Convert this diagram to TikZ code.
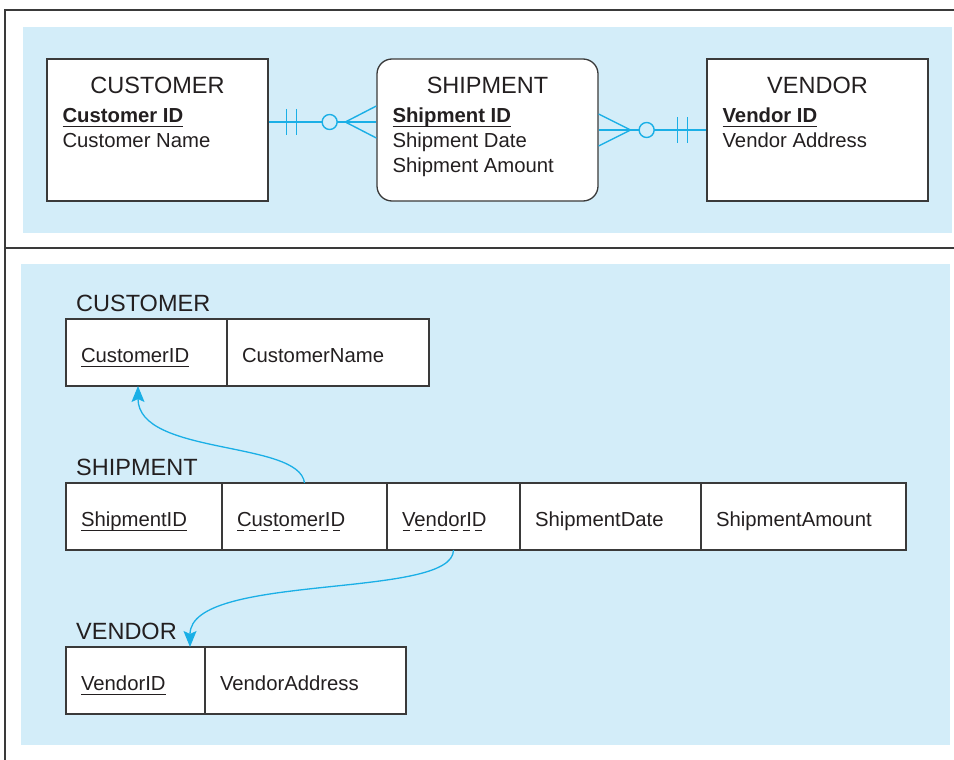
\documentclass[tikz,border=0pt]{standalone}
\usepackage{fontspec}
\setmainfont{Liberation Sans}
\usetikzlibrary{arrows.meta,calc,positioning}

\definecolor{panelblue}{HTML}{D3EDF9}
\definecolor{linkcyan}{HTML}{1AAFE6}
\definecolor{inkgray}{HTML}{231F20}
\definecolor{boxgray}{HTML}{3A3A3A}

\newcommand{\bodyfont}{\fontsize{20.3}{25}\selectfont}
\newcommand{\headfont}{\fontsize{23.5}{28}\selectfont}
\newsavebox{\keybox}
\newcommand{\keyul}[1]{\sbox{\keybox}{#1}\rlap{\usebox{\keybox}}\rule[-5pt]{\wd\keybox}{1.3pt}}
\newcommand{\keydash}[1]{\sbox{\keybox}{#1}\rlap{\usebox{\keybox}}\hbox to \wd\keybox{\xleaders\hbox{\rule[-5pt]{7pt}{1.3pt}\kern4.5pt}\hfil}}

\begin{document}
\begin{tikzpicture}[x=1pt,y=-1pt,font=\bodyfont,text=inkgray,
entity/.style={draw=boxgray,line width=1.3pt,fill=white,minimum width=221pt,minimum height=142pt,inner sep=0pt},
etitle/.style={font=\headfont,anchor=base,inner sep=0pt},
attr/.style={anchor=base west,inner sep=0pt},
link/.style={draw=linkcyan,line width=1.4pt},
optring/.style={circle,draw=linkcyan,line width=1.4pt,fill=panelblue,minimum size=15pt,inner sep=0pt},
tname/.style={font=\headfont,anchor=base west,inner sep=0pt},
cell/.style={draw=boxgray,line width=1.3pt,fill=white,outer sep=0pt,minimum height=67pt,inner xsep=15pt,inner ysep=0pt,
  text height=19pt,text depth=0pt,align=left},
fkey/.style={draw=linkcyan,line width=1.3pt,-{Stealth[length=16pt,width=13pt,inset=3pt]}},
frame/.style={draw=boxgray,line width=2.4pt},
]
\useasboundingbox (0,0) rectangle (954,760);

\fill[panelblue] (23,27) rectangle (952,233);
\fill[panelblue] (21,264) rectangle (950,745);
\draw[frame] (954,10) -- (5,10) -- (5,760);
\draw[frame,line width=1.5pt] (5,248) -- (954,248);

\node[entity] (custE) at (157.5,130) {};
\node[entity,rounded corners=15pt] (shipE) at (487.5,130) {};
\node[entity] (vendE) at (817.5,130) {};

\node[etitle] (custT) at ($(custE.north)+(0,35)$) {CUSTOMER};
\node[attr] (custK) at ($(custE.north west)+(16,64)$) {\bfseries\keyul{Customer ID}};
\node[attr] (custA) at ($(custK.base west)+(0,25)$) {Customer Name};

\node[etitle] (shipT) at ($(shipE.north)+(0,35)$) {SHIPMENT};
\node[attr] (shipK) at ($(shipE.north west)+(16,64)$) {\bfseries\keyul{Shipment ID}};
\node[attr] (shipA) at ($(shipK.base west)+(0,25)$) {Shipment Date};
\node[attr] (shipB) at ($(shipA.base west)+(0,25)$) {Shipment Amount};

\node[etitle] (vendT) at ($(vendE.north)+(0,35)$) {VENDOR};
\node[attr] (vendK) at ($(vendE.north west)+(16,64)$) {\bfseries\keyul{Vendor ID}};
\node[attr] (vendA) at ($(vendK.base west)+(0,25)$) {Vendor Address};

\coordinate (lCrow) at ($(shipE.west)+(-31,-8)$);
\draw[link] ($(custE.east)+(0,-8)$) -- ($(shipE.west)+(0,-8)$);
\draw[link] ($(custE.east)+(18,-21)$) -- +(0,26);
\draw[link] ($(custE.east)+(28,-21)$) -- +(0,26);
\node[optring] (lRing) at ($(custE.east)+(61,-8)$) {};
\draw[link] ($(shipE.west)+(0,-24)$) -- (lCrow) -- ($(shipE.west)+(0,8)$);

\coordinate (rCrow) at ($(shipE.east)+(32,0)$);
\draw[link] (shipE.east) -- (vendE.west);
\draw[link] ($(shipE.east)+(0,-16)$) -- (rCrow) -- ($(shipE.east)+(0,16)$);
\node[optring] (rRing) at ($(shipE.east)+(48,0)$) {};
\draw[link] ($(vendE.west)+(-29,-13)$) -- +(0,26);
\draw[link] ($(vendE.west)+(-19,-13)$) -- +(0,26);

\node[tname] (custN) at (76,311) {CUSTOMER};
\node[cell,anchor=north west,text width=131pt] (cCust) at ($(custN.base west)+(-10,8)$) {\keyul{CustomerID}};
\node[cell,right=0pt of cCust,text width=172pt] (cName) {CustomerName};

\node[tname] (shipN) at (76,475) {SHIPMENT};
\node[cell,anchor=north west,text width=126pt] (sShip) at ($(shipN.base west)+(-10,8)$) {\keyul{ShipmentID}};
\node[cell,right=0pt of sShip,text width=135pt] (sCust) {\keydash{CustomerID}};
\node[cell,right=0pt of sCust,text width=103pt] (sVend) {\keydash{VendorID}};
\node[cell,right=0pt of sVend,text width=151pt] (sDate) {ShipmentDate};
\node[cell,right=0pt of sDate,text width=175pt] (sAmt) {ShipmentAmount};

\node[tname] (vendN) at (76,639) {VENDOR};
\node[cell,anchor=north west,text width=109pt] (vId) at ($(vendN.base west)+(-10,8)$) {\keyul{VendorID}};
\node[cell,right=0pt of vId,text width=171pt] (vAddr) {VendorAddress};

\draw[fkey] (sCust.north) .. controls +(-5,-43) and +(0,70) .. ([xshift=-8.5pt]cCust.south);
\draw[fkey] (sVend.south) .. controls +(0,50) and +(0,-75) .. ([xshift=54.5pt]vId.north);
\end{tikzpicture}
\end{document}
